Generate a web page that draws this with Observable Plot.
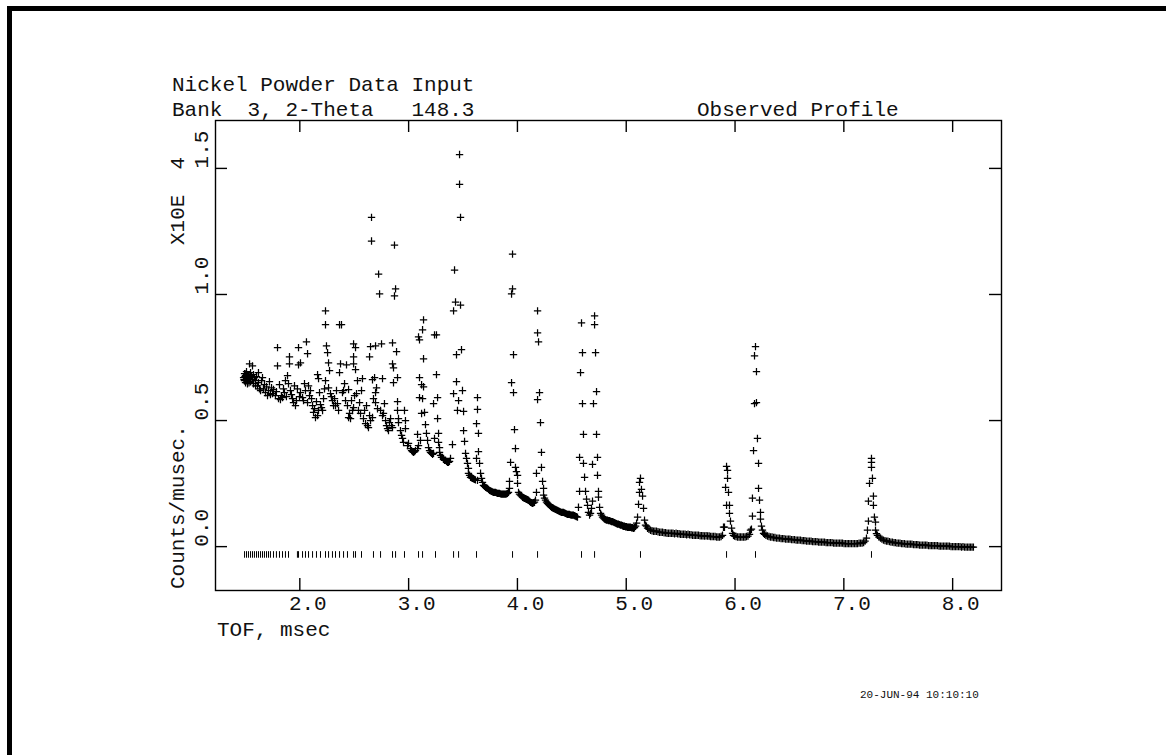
<!DOCTYPE html>
<html>
<head>
<meta charset="utf-8">
<script src="https://cdn.jsdelivr.net/npm/d3@7"></script>
<script src="https://cdn.jsdelivr.net/npm/@observablehq/plot@0.6"></script>
<style>
html, body { margin: 0; padding: 0; background: #fff; }
#page { position: relative; width: 1166px; height: 755px; overflow: hidden; }
#chart { position: absolute; left: 0; top: 0; }
#border { position: absolute; left: 7px; top: 6px; width: 1200px; height: 800px;
  border-top: 5px solid #000; border-left: 5px solid #000; pointer-events: none; }
</style>
</head>
<body>
<div id="page"><div id="chart"></div><div id="border"></div></div>
<script>
// ---- text ----
const titleLine1 = "Nickel Powder Data Input";
const titleLine2 = "Bank  3, 2-Theta   148.3";
const rightTitle = "Observed Profile";
const xLabel = "TOF, msec";
const yLabel = "Counts/musec.";
const yScaleLabel = "X10E  4";
const stamp = "20-JUN-94 10:10:10";

// ---- axis ticks ----
const xTicks = [2, 3, 4, 5, 6, 7, 8];
const yTicks = [0, 0.5, 1.0, 1.5];

// ---- observed profile: [TOF msec, counts/musec x 1e4] ----
const profileA = [
[1.483,0.670],[1.487,0.662],[1.492,0.686],[1.492,0.658],[1.496,0.674],[1.501,0.678],[1.501,0.650],[1.505,0.686],[1.510,0.666],[1.510,0.694],
[1.515,0.658],[1.519,0.674],[1.519,0.646],[1.524,0.670],[1.528,0.682],[1.528,0.662],[1.533,0.650],[1.538,0.670],[1.538,0.725],[1.542,0.678],
[1.547,0.690],[1.547,0.654],[1.556,0.674],[1.565,0.717],[1.565,0.662],[1.574,0.682],[1.574,0.646],[1.583,0.670],[1.593,0.658],[1.593,0.638],
[1.602,0.674],[1.611,0.638],[1.620,0.690],[1.620,0.650],[1.629,0.626],[1.639,0.619],[1.648,0.658],[1.657,0.670],[1.666,0.626],[1.675,0.642],
[1.684,0.611],[1.694,0.634],[1.703,0.599],[1.712,0.619],[1.721,0.654],[1.730,0.603],[1.740,0.630],[1.749,0.607],[1.758,0.623],[1.776,0.599],
[1.785,0.615],[1.795,0.717],[1.795,0.789],[1.804,0.587],[1.813,0.642],[1.822,0.583],[1.831,0.599],[1.841,0.591],[1.850,0.626],[1.859,0.611],
[1.868,0.658],[1.877,0.595],[1.887,0.678],[1.896,0.646],[1.905,0.753],[1.905,0.725],[1.914,0.619],[1.923,0.603],[1.933,0.587],[1.942,0.571],
[1.951,0.638],[1.960,0.559],[1.969,0.579],[1.978,0.626],[1.988,0.721],[1.988,0.789],[1.997,0.595]
];
const profileB = [
[2.006,0.611],[2.006,0.729],[2.025,0.591],[2.034,0.579],[2.043,0.646],[2.052,0.619],[2.061,0.812],[2.071,0.765],[2.071,0.571],[2.080,0.638],
[2.089,0.599],[2.098,0.619],[2.108,0.587],[2.117,0.559],[2.126,0.532],[2.135,0.547],[2.144,0.512],[2.153,0.575],[2.163,0.520],[2.163,0.682],
[2.172,0.540],[2.172,0.666],[2.181,0.611],[2.190,0.563],[2.199,0.551],[2.209,0.540],[2.218,0.587],[2.227,0.626],[2.236,0.658],[2.236,0.935],
[2.236,0.880],[2.245,0.796],[2.255,0.769],[2.264,0.630],[2.264,0.729],[2.273,0.698],[2.282,0.607],[2.291,0.595],[2.300,0.579],[2.310,0.559],
[2.319,0.587],[2.328,0.559],[2.337,0.619],[2.346,0.567],[2.356,0.540],[2.365,0.690],[2.365,0.880],[2.374,0.725],[2.383,0.880],[2.392,0.611],
[2.402,0.619],[2.411,0.646],[2.420,0.579],[2.429,0.721],[2.438,0.559],[2.448,0.623],[2.448,0.512],[2.457,0.528],[2.466,0.508],[2.475,0.579],
[2.484,0.540],[2.494,0.804],[2.494,0.753],[2.494,0.725],[2.494,0.551],[2.503,0.599],[2.512,0.789],[2.512,0.702],[2.521,0.607],[2.530,0.658],
[2.539,0.540],[2.549,0.571],[2.558,0.528],[2.567,0.619],[2.576,0.666],[2.585,0.508],[2.595,0.540],[2.604,0.488],[2.613,0.559],[2.622,0.480],
[2.631,0.472],[2.641,0.520],[2.641,0.753],[2.650,0.500],[2.650,0.793],[2.659,1.306],[2.659,1.212],[2.668,0.512],[2.668,0.662],[2.677,0.587],
[2.687,0.670],[2.696,0.611],[2.696,0.571],[2.696,0.796],[2.705,0.630]
];
const profileC = [
[2.714,0.547],[2.724,1.081],[2.733,1.002],[2.742,0.540],[2.751,0.804],[2.760,0.666],[2.760,0.520],[2.769,0.528],[2.778,0.567],[2.788,0.500],
[2.797,0.480],[2.806,0.468],[2.815,0.460],[2.824,0.492],[2.834,0.508],[2.843,0.480],[2.852,0.472],[2.852,0.808],[2.852,0.725],[2.861,0.709],
[2.861,0.650],[2.870,1.196],[2.880,1.022],[2.870,0.994],[2.889,0.773],[2.898,0.670],[2.898,0.575],[2.898,0.540],[2.907,0.508],[2.907,0.492],
[2.925,0.460],[2.935,0.441],[2.944,0.429],[2.953,0.413],[2.962,0.540],[2.971,0.500],[2.971,0.468],[2.990,0.401],[2.999,0.409],[3.017,0.389],
[3.027,0.381],[3.036,0.377],[3.045,0.374],[3.054,0.377],[3.063,0.381],[3.082,0.389],[3.082,0.445],[3.091,0.832],[3.091,0.401],[3.100,0.820],
[3.100,0.670],[3.100,0.591],[3.109,0.421],[3.119,0.528],[3.119,0.642],[3.128,0.860],[3.128,0.587],[3.137,0.899],[3.137,0.745],[3.137,0.634],
[3.146,0.532],[3.155,0.484],[3.164,0.449],[3.174,0.421],[3.183,0.393],[3.192,0.381],[3.201,0.374],[3.210,0.370],[3.220,0.366],[3.229,0.370],
[3.229,0.567],[3.238,0.840],[3.238,0.429],[3.256,0.840],[3.256,0.682],[3.266,0.591],[3.266,0.508],[3.275,0.449],[3.275,0.413],[3.284,0.393],
[3.284,0.374],[3.293,0.362],[3.302,0.354],[3.311,0.354],[3.320,0.346],[3.330,0.342],[3.339,0.342],[3.348,0.338],[3.357,0.334],[3.367,0.334],
[3.376,0.338],[3.385,0.350],[3.403,0.405],[3.413,0.607],[3.413,0.935],[3.422,1.097],[3.431,0.970],[3.440,0.761],[3.440,0.654],[3.449,0.540],
[3.459,0.579],[3.468,1.555],[3.468,1.437],[3.477,1.306],[3.477,0.958],[3.486,0.781],[3.495,0.619],[3.505,0.536],[3.505,0.460],[3.514,0.417],
[3.523,0.370]
];
const profileD = [
[3.532,0.350],[3.541,0.330],[3.550,0.310],[3.550,0.291],[3.560,0.283],[3.569,0.275],[3.578,0.273],[3.587,0.271],[3.596,0.269],[3.605,0.267],
[3.614,0.265],[3.624,0.488],[3.624,0.350],[3.633,0.591],[3.633,0.544],[3.633,0.263],[3.642,0.449],[3.642,0.377],[3.652,0.330],[3.661,0.291],
[3.670,0.271],[3.679,0.255],[3.688,0.243],[3.697,0.239],[3.707,0.235],[3.716,0.233],[3.725,0.231],[3.734,0.227],[3.743,0.223],[3.752,0.221],
[3.762,0.219],[3.771,0.217],[3.780,0.215],[3.789,0.215],[3.799,0.215],[3.808,0.213],[3.817,0.211],[3.826,0.211],[3.835,0.211],[3.844,0.209],
[3.854,0.208],[3.863,0.208],[3.872,0.208],[3.881,0.208],[3.891,0.208],[3.900,0.209],[3.909,0.211],[3.918,0.215],[3.927,0.231],[3.927,0.259],
[3.937,0.334],[3.946,0.650],[3.946,1.002],[3.955,1.160],[3.955,1.022],[3.964,0.761],[3.964,0.611],[3.973,0.464],[3.982,0.389],[3.982,0.314],
[3.991,0.297],[4.001,0.283],[4.001,0.251],[4.010,0.215],[4.019,0.208],[4.028,0.204],[4.037,0.200],[4.047,0.196],[4.056,0.194],[4.065,0.192],
[4.075,0.190],[4.084,0.188],[4.093,0.186],[4.102,0.184],[4.111,0.180],[4.120,0.176],[4.130,0.174],[4.139,0.172],[4.148,0.174],[4.157,0.176],
[4.166,0.184],[4.175,0.215],[4.175,0.291],[4.185,0.935],[4.185,0.848],[4.185,0.583],[4.194,0.812],[4.203,0.611],[4.212,0.492],[4.221,0.374],
[4.221,0.314],[4.231,0.259],[4.240,0.231],[4.240,0.204],[4.249,0.192],[4.258,0.184],[4.267,0.176],[4.276,0.172],[4.285,0.168],[4.295,0.164],
[4.304,0.160],[4.313,0.156],[4.322,0.154],[4.331,0.152],[4.340,0.150],[4.350,0.148],[4.359,0.146],[4.368,0.144],[4.377,0.142],[4.386,0.140],
[4.395,0.138],[4.405,0.136],[4.414,0.136],[4.423,0.136],[4.432,0.134],[4.441,0.132],[4.451,0.130],[4.460,0.128],[4.469,0.128],[4.478,0.128],
[4.487,0.126],[4.497,0.125],[4.506,0.125],[4.515,0.125],[4.524,0.123],[4.533,0.121],[4.542,0.119],[4.552,0.117],[4.561,0.156],[4.571,0.219],
[4.571,0.354],[4.580,0.690],[4.589,0.887],[4.598,0.769],[4.598,0.567],[4.607,0.445],[4.607,0.330],[4.617,0.275],[4.626,0.219],[4.635,0.188],
[4.644,0.164],[4.653,0.136],[4.663,0.125],[4.672,0.132],[4.681,0.152],[4.690,0.180],[4.690,0.326],[4.699,0.567],[4.709,0.915],[4.709,0.880],
[4.718,0.769],[4.727,0.615],[4.727,0.445],[4.736,0.354],[4.736,0.283],[4.745,0.219],[4.745,0.196],[4.755,0.156],[4.764,0.132],[4.773,0.125],
[4.782,0.117],[4.791,0.113],[4.800,0.109],[4.810,0.107],[4.819,0.105],[4.828,0.105],[4.837,0.103],[4.846,0.103],[4.856,0.101],[4.865,0.099],
[4.874,0.099],[4.883,0.097],[4.892,0.095],[4.902,0.093],[4.911,0.091],[4.920,0.089],[4.929,0.089],[4.939,0.087],[4.948,0.085],[4.957,0.085],
[4.966,0.083],[4.975,0.081],[4.984,0.081],[4.994,0.079],[5.003,0.079],[5.012,0.077],[5.021,0.077],[5.030,0.077],[5.040,0.077],[5.049,0.075],
[5.058,0.075],[5.067,0.073],[5.076,0.075],[5.086,0.081],[5.095,0.093],[5.104,0.117],[5.113,0.168],[5.122,0.215],[5.122,0.255],[5.131,0.271],
[5.140,0.227],[5.150,0.200],[5.159,0.152],[5.168,0.105],[5.177,0.085]
];
const profileE = [
[5.186,0.081],[5.196,0.073],[5.209,0.069],[5.223,0.065],[5.237,0.063],[5.251,0.061],[5.264,0.061],[5.278,0.061],[5.292,0.059],[5.306,0.057],
[5.320,0.057],[5.334,0.057],[5.348,0.055],[5.362,0.055],[5.375,0.053],[5.389,0.053],[5.403,0.053],[5.417,0.053],[5.430,0.053],[5.444,0.051],
[5.458,0.053],[5.472,0.051],[5.486,0.051],[5.499,0.049],[5.513,0.049],[5.527,0.049],[5.541,0.049],[5.555,0.047],[5.568,0.049],[5.582,0.047],
[5.596,0.047],[5.610,0.045],[5.624,0.045],[5.637,0.045],[5.651,0.045],[5.665,0.045],[5.679,0.043],[5.693,0.043],[5.706,0.043],[5.720,0.042],
[5.734,0.043],[5.748,0.042],[5.762,0.042],[5.775,0.040],[5.789,0.040],[5.803,0.040],[5.817,0.040],[5.831,0.038],[5.844,0.038],[5.858,0.038],
[5.872,0.040],[5.885,0.045],[5.894,0.077],[5.903,0.077],[5.913,0.235],[5.922,0.318],[5.922,0.164],[5.931,0.302],[5.931,0.271],[5.940,0.215],
[5.949,0.164],[5.949,0.132],[5.958,0.101],[5.968,0.073],[5.977,0.053],[5.986,0.045],[5.995,0.042],[6.009,0.040],[6.023,0.038],[6.037,0.038],
[6.050,0.038],[6.064,0.038],[6.078,0.038],[6.092,0.038],[6.105,0.040],[6.119,0.042],[6.133,0.049],[6.142,0.065],[6.151,0.069],[6.160,0.121],
[6.160,0.192],[6.170,0.381],[6.179,0.757],[6.179,0.567],[6.188,0.793],[6.197,0.694],[6.197,0.571],[6.206,0.429],[6.216,0.330],[6.216,0.231],
[6.225,0.184],[6.234,0.136],[6.234,0.109],[6.243,0.081],[6.252,0.065],[6.262,0.053],[6.271,0.049],[6.284,0.045],[6.298,0.042],[6.312,0.040],
[6.326,0.038],[6.340,0.038],[6.354,0.036],[6.367,0.036],[6.381,0.034],[6.395,0.034],[6.409,0.034],[6.423,0.032],[6.436,0.032],[6.450,0.032],
[6.464,0.030],[6.478,0.030],[6.492,0.030],[6.505,0.030],[6.519,0.028],[6.533,0.028],[6.547,0.028],[6.561,0.026],[6.574,0.026],[6.588,0.026],
[6.602,0.026],[6.616,0.024],[6.630,0.024],[6.643,0.024],[6.657,0.022],[6.671,0.022],[6.685,0.022],[6.699,0.022],[6.712,0.020],[6.726,0.020],
[6.740,0.020],[6.754,0.020],[6.768,0.018],[6.781,0.018],[6.795,0.018],[6.809,0.018],[6.823,0.018],[6.837,0.016],[6.850,0.016],[6.864,0.016],
[6.878,0.016],[6.892,0.016],[6.906,0.014],[6.919,0.014],[6.933,0.014],[6.947,0.014],[6.961,0.014],[6.975,0.014],[6.988,0.014],[7.002,0.012],
[7.016,0.012],[7.030,0.012],[7.044,0.012],[7.057,0.012],[7.071,0.012],[7.085,0.012],[7.099,0.012],[7.113,0.012],[7.126,0.012],[7.140,0.014],
[7.154,0.014],[7.168,0.014],[7.182,0.016],[7.195,0.022],[7.208,0.034],[7.217,0.065],[7.226,0.101],[7.226,0.180],[7.236,0.251],[7.254,0.350],
[7.254,0.334],[7.254,0.314],[7.263,0.271],[7.272,0.200],[7.272,0.164],[7.281,0.117],[7.291,0.097],[7.291,0.065],[7.300,0.052],[7.309,0.045],
[7.323,0.038],[7.337,0.034],[7.350,0.030],[7.364,0.026],[7.378,0.024],[7.392,0.022],[7.405,0.022],[7.419,0.020],[7.433,0.018],[7.447,0.018],
[7.461,0.016],[7.474,0.016],[7.488,0.014],[7.502,0.014],[7.516,0.014],[7.530,0.012],[7.543,0.012],[7.557,0.012],[7.571,0.010],[7.585,0.010],
[7.599,0.010],[7.612,0.010],[7.626,0.010],[7.640,0.008],[7.654,0.008],[7.668,0.008],[7.681,0.008],[7.695,0.006],[7.709,0.006],[7.723,0.006],
[7.737,0.006],[7.750,0.006],[7.764,0.006],[7.778,0.004],[7.792,0.004],[7.806,0.004],[7.819,0.004],[7.833,0.004],[7.847,0.004],[7.861,0.004],
[7.875,0.002],[7.888,0.002],[7.902,0.002],[7.916,0.002],[7.930,0.002],[7.944,0.002],[7.957,0.002],[7.971,0.002],[7.985,0.000],[7.999,0.000],
[8.013,0.000],[8.026,0.000],[8.040,0.000],[8.054,0.000],[8.068,0.000],[8.082,-0.002],[8.095,0.000],[8.109,-0.002],[8.123,-0.002],[8.137,-0.002],
[8.151,-0.002],[8.164,-0.002],[8.178,-0.002],[8.191,-0.002]
];

// ---- reflection positions (msec) ----
const reflections = [
1.492,1.510,1.528,1.547,1.565,1.583,1.602,1.620,1.639,1.657,1.675,1.694,1.712,1.730,1.758,1.785,1.813,1.841,1.868,1.896,
1.978,1.988,2.025,2.052,2.080,2.117,2.153,2.190,2.236,2.264,2.300,2.328,2.365,2.402,2.438,2.494,2.512,2.567,2.677,2.742,
2.852,2.880,2.962,3.091,3.128,3.247,3.413,3.459,3.624,3.955,4.185,4.589,4.709,5.131,5.922,6.188,7.254
];

const observed = [...profileA, ...profileB, ...profileC, ...profileD, ...profileE]
  .map(([tof, counts]) => ({tof, counts}));

const FONT = "Courier New, Liberation Mono, monospace";
const fmt = d3.format(".1f");

const W = 1166, H = 755, ML = 215, MR = 165, MT = 120, MB = 165;
const TICK = 12;
const innerW = W - ML - MR, innerH = H - MT - MB;

const svg = Plot.plot({
  width: W,
  height: H,
  marginLeft: ML,
  marginRight: MR,
  marginTop: MT,
  marginBottom: MB,
  style: {fontFamily: FONT, background: "transparent", color: "#000"},
  x: {domain: [1.225, 8.449], axis: null},
  y: {domain: [-0.174, 1.690], axis: null},
  marks: [
    Plot.frame({stroke: "#000", strokeWidth: 1.4}),
    // inward ticks on all four sides
    Plot.tickX(xTicks, {x: d => d, insetTop: innerH - TICK, stroke: "#000", strokeWidth: 1.4}),
    Plot.tickX(xTicks, {x: d => d, insetBottom: innerH - TICK, stroke: "#000", strokeWidth: 1.4}),
    Plot.tickY(yTicks, {y: d => d, insetRight: innerW - TICK, stroke: "#000", strokeWidth: 1.4}),
    Plot.tickY(yTicks, {y: d => d, insetLeft: innerW - TICK, stroke: "#000", strokeWidth: 1.4}),
    Plot.text(xTicks, {x: d => d, text: d => fmt(d), frameAnchor: "bottom", lineAnchor: "top",
      dy: 5, dx: 8, fontSize: 21, fontFamily: FONT, fill: "#111"}),
    Plot.text(yTicks, {y: d => d, text: d => fmt(d), frameAnchor: "left", rotate: -90, lineAnchor: "bottom",
      dx: -8, fontSize: 21, fontFamily: FONT, fill: "#111"}),
    Plot.ruleX(reflections, {x: d => d, y1: -0.020, y2: -0.046, stroke: "#000", strokeWidth: 1}),
    Plot.dot(observed, {x: "tof", y: "counts", symbol: "plus", r: 2.5, stroke: "#000", fill: "none", strokeWidth: 1.25})
  ]
});

const s = d3.select(svg);
const addText = (x, y, str, size, rotate) => {
  const t = s.append("text")
    .attr("font-family", FONT).attr("font-size", size).attr("fill", "#111")
    .attr("text-anchor", "start")
    .attr("xml:space", "preserve").style("white-space", "pre")
    .text(str);
  if (rotate) t.attr("transform", `translate(${x},${y}) rotate(-90)`);
  else t.attr("x", x).attr("y", y);
};
addText(172, 91, titleLine1, 21);
addText(172, 116, titleLine2, 21);
addText(697, 116, rightTitle, 21);
addText(217, 636, xLabel, 21);
addText(184, 589, yLabel, 21, true);
addText(184, 245, yScaleLabel, 21, true);
addText(860, 698, stamp, 11);

document.getElementById("chart").appendChild(svg);
</script>
</body>
</html>
